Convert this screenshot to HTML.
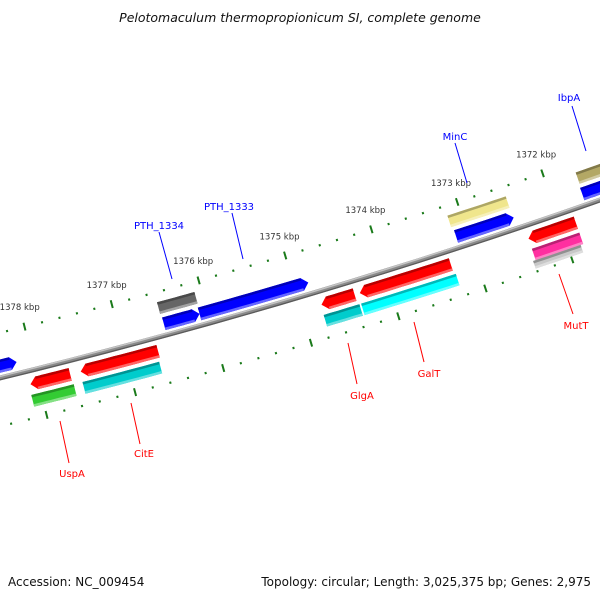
<!DOCTYPE html>
<html><head><meta charset="utf-8"><style>
body{margin:0;background:#fff}
svg{display:block;font-family:"DejaVu Sans","Liberation Sans",sans-serif}
</style></head><body>
<svg id="map" width="600" height="600" viewBox="0 0 600 600">
<text x="300" y="22" text-anchor="middle" font-size="12.5" font-style="italic" fill="#111">Pelotomaculum thermopropionicum SI, complete genome</text>
<g id="ticks"></g>
<g id="backbone"></g>
<g id="genes"></g>
<g id="labels"></g>
<text x="8" y="586" font-size="12" fill="#111">Accession: NC_009454</text>
<text x="591" y="586" text-anchor="end" font-size="12" fill="#111">Topology: circular; Length: 3,025,375 bp; Genes: 2,975</text>
</svg>
<script>
// data (kbp)
const majorTicks = [1378,1377,1376,1375,1374,1373,1372];
const tickLabels = ["1378 kbp","1377 kbp","1376 kbp","1375 kbp","1374 kbp","1373 kbp","1372 kbp"];
const geneStarts = [1378.7,1376.50,1376.09,1373.13,1371.66, 1376.51,1373.15,1371.65, 1378.09,1377.52,1374.77,1374.33,1372.38, 1378.11,1377.53,1374.78,1374.35,1372.38, 1372.41];
const geneEnds   = [1378.18,1376.09,1374.84,1372.46,1371.20, 1376.08,1372.47,1371.15, 1377.64,1376.64,1374.39,1373.28,1371.83, 1377.63,1376.66,1374.37,1373.26,1371.83, 1371.86];
const geneRings  = [1,1,1,1,1, 2,2,2, -1,-1,-1,-1,-1, -2,-2,-2,-2,-2, -3];
const geneArrows = [1,1,1,1,1, 0,0,0, -1,-1,-1,-1,-1, 0,0,0,0,0, 0];
const geneColors = ["#0000ff","#0000ff","#0000ff","#0000ff","#0000ff","#666666","#f0e68c","#b3a865","#ff0000","#ff0000","#ff0000","#ff0000","#ff0000","#33cc33","#00cccc","#00cccc","#00ffff","#ff2fa0","#c8c8c8"];
const labelNames = ["IbpA","MinC","PTH_1333","PTH_1334","UspA","CitE","GlgA","GalT","MutT"];
const labelColors= ["#0000ff","#0000ff","#0000ff","#0000ff","#ff0000","#ff0000","#ff0000","#ff0000","#ff0000"];
const labelTextX = [569,455,229,159,72,144,362,429,576];
const labelTextY = [101,140,210,229,477,457,399,377,329];
const labelLine  = [[572,106,586,151],[455,143,467,183],[232,213,243,259],[159,232,172,279],[60,421,69,463],[131,403,140,444],[348,343,357,384],[414,322,424,362],[559,274,573,314]];

const NS="http://www.w3.org/2000/svg";
const CX=-1514, CY=-5827, R=6387, TH0=1.3258, K=0.0142;
function P(kbp,off){const t=TH0-(1378-kbp)*K, r=R+off;return [CX+r*Math.cos(t),CY+r*Math.sin(t)];}
function mk(tag,attrs,parent){const e=document.createElementNS(NS,tag);for(const a in attrs)e.setAttribute(a,attrs[a]);parent.appendChild(e);return e;}
function arcPath(a,b,off){let d="";const n=20;for(let i=0;i<=n;i++){const p=P(a+(b-a)*i/n,off);d+=(i?"L":"M")+p[0].toFixed(1)+" "+p[1].toFixed(1);}return d;}
function shade(hex,f){const n=parseInt(hex.slice(1),16);let r=n>>16,g=(n>>8)&255,b=n&255;
 if(f<1){r*=f;g*=f;b*=f;}else{r+= (255-r)*(f-1);g+=(255-g)*(f-1);b+=(255-b)*(f-1);}
 return "rgb("+Math.round(r)+","+Math.round(g)+","+Math.round(b)+")";}

// ticks
const tg=document.getElementById('ticks');
const ringOffs=[-44,47];
for(const ro of ringOffs){
 for(let m=13720;m<=13786;m+=2){
  const kbp=m/10;
  if(m%10===0){
   const a=P(kbp,ro-4),b=P(kbp,ro+4);
   const l=mk('line',{x1:a[0],y1:a[1],x2:b[0],y2:b[1],stroke:'#1a7a1a','stroke-width':2},tg);
   
   
  } else {
   const a=P(kbp,ro-1),b=P(kbp,ro+1.2);
   const l=mk('line',{x1:a[0],y1:a[1],x2:b[0],y2:b[1],stroke:'#1a7a1a','stroke-width':2},tg);
   
   
  }
 }
}
majorTicks.forEach((k,i)=>{
 const p=P(k,-64);
 const t=mk('text',{x:p[0].toFixed(1),y:(p[1]+3).toFixed(1),'text-anchor':'middle','font-size':8.5,fill:'#333'},tg);
 t.textContent=tickLabels[i];
 
 
});

// backbone
const bb=document.getElementById('backbone');
const b1=mk('path',{d:arcPath(1378.8,1370.8,0),stroke:'#8a8a8a','stroke-width':5,fill:'none'},bb);


mk('path',{d:arcPath(1378.8,1370.8,-1.5),stroke:'#c4c4c4','stroke-width':1.5,fill:'none'},bb);
mk('path',{d:arcPath(1378.8,1370.8,1.8),stroke:'#5a5a5a','stroke-width':1.2,fill:'none'},bb);

// genes
const ringBands={1:[-18,-5],2:[-34,-22],'-1':[7,20],'-2':[24,36],'-3':[36,44]};
const gg=document.getElementById('genes');
function bandPoly(a,b,o1,o2,arrow){
 const W=0.07;
 let pts=[];
 let a2=a,b2=b;
 if(arrow===1) b2=b+W; if(arrow===-1) a2=a-W;
 const n=10;
 for(let i=0;i<=n;i++)pts.push(P(a2+(b2-a2)*i/n,o1));
 if(arrow===1)pts.push(P(b,(o1+o2)/2));
 for(let i=n;i>=0;i--)pts.push(P(a2+(b2-a2)*i/n,o2));
 if(arrow===-1)pts.push(P(a,(o1+o2)/2));
 return pts.map(p=>p[0].toFixed(1)+","+p[1].toFixed(1)).join(" ");
}
geneStarts.forEach((s,i)=>{
 const e=geneEnds[i], band=ringBands[geneRings[i]], c=geneColors[i], ar=geneArrows[i];
 const g=mk('g',{},gg);
 
 
 const [o1,o2]=band;
 mk('polygon',{points:bandPoly(s,e,o1,o2,ar),fill:c},g);
 const W=0.07;
 const a=ar===-1?s-W:s, b=ar===1?e+W:e;
 mk('polygon',{points:bandPoly(a,b,o1,o1+2.5,0),fill:shade(c,0.72)},g);
 mk('polygon',{points:bandPoly(a,b,o2-2.5,o2,0),fill:shade(c,1.4)},g);
});

// labels
const lg=document.getElementById('labels');
labelNames.forEach((n,i)=>{
 const L=labelLine[i];
 const ln=mk('line',{x1:L[0],y1:L[1],x2:L[2],y2:L[3],stroke:labelColors[i],'stroke-width':1},lg);
 
 
 const t=mk('text',{x:labelTextX[i],y:labelTextY[i],'text-anchor':'middle','font-size':10,fill:labelColors[i]},lg);
 t.textContent=n;
 
 
});
</script>
</body></html>
